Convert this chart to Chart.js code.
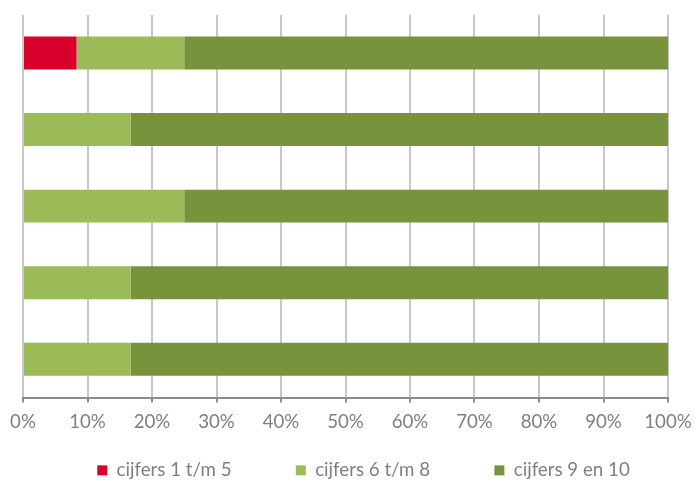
<!DOCTYPE html>
<html>
<head>
<meta charset="utf-8">
<script src="https://cdn.jsdelivr.net/npm/chart.js@4"></script>
<style>
  html, body { margin: 0; padding: 0; background: #fff; }
  #wrap { width: 695px; height: 481px; }
</style>
</head>
<body>
<div id="wrap"><canvas id="chart-bar"></canvas></div>
<script>
var categories = ['', '', '', '', ''];
var seriesNames = ['cijfers 1 t/m 5', 'cijfers 6 t/m 8', 'cijfers 9 en 10'];
var laag = [8.3, 0, 0, 0, 0];
var midden = [16.7, 16.7, 25, 16.7, 16.7];
var hoog = [75, 83.3, 75, 83.3, 83.3];
var xTicks = [0, 10, 20, 30, 40, 50, 60, 70, 80, 90, 100];

// keep the legend low and compact, nudged right like the original
var legendShift = {
    id: 'legendShift',
    afterLayout: function (chart) {
        var lg = chart.legend;
        if (!lg) return;
        lg.top -= 30;
        lg.left += 16;
        lg.right += 16;
    }
};

var ctx = document.getElementById('chart-bar').getContext('2d');

var myChart = new Chart(ctx, {
    type: 'bar',
    data: {
        labels: categories,
        datasets: [
            { label: seriesNames[0], data: laag, backgroundColor: '#d9002c' },
            { label: seriesNames[1], data: midden, backgroundColor: '#9bbb59' },
            { label: seriesNames[2], data: hoog, backgroundColor: '#77933c' }
        ]
    },
    plugins: [legendShift],
    options: {
        indexAxis: 'y',
        responsive: true,
        maintainAspectRatio: false,
        animation: false,
        datasets: {
            bar: {
                categoryPercentage: 1,
                barPercentage: 0.43,
                borderWidth: 0
            }
        },
        layout: {
            padding: { top: 14.65, left: 0, right: 0, bottom: 0 }
        },
        plugins: {
            tooltip: { enabled: false },
            legend: {
                display: true,
                position: 'bottom',
                maxHeight: 40,
                labels: {
                    boxWidth: 10,
                    boxHeight: 10,
                    padding: 50,
                    color: '#7f7f7f',
                    font: { family: 'Lato', size: 18.7 },
                    generateLabels: function (chart) {
                        var items = Chart.defaults.plugins.legend.labels.generateLabels(chart);
                        items.forEach(function (it, i) {
                            if (i < items.length - 1) it.text += '\u00a0\u00a0\u00a0';
                        });
                        return items;
                    }
                }
            }
        },
        scales: {
            x: {
                stacked: true,
                min: 0,
                max: 100,
                afterBuildTicks: function (axis) {
                    axis.ticks = xTicks.map(function (v) { return { value: v }; });
                },
                afterFit: function (axis) {
                    axis.paddingLeft = 23;
                    axis.paddingRight = 27;
                },
                grid: {
                    color: '#c8c8c8',
                    lineWidth: 2,
                    drawTicks: true,
                    tickLength: 5,
                    tickColor: '#8c8c8c'
                },
                border: { display: true, color: '#8c8c8c', width: 2 },
                ticks: {
                    padding: 8,
                    color: '#7f7f7f',
                    font: { family: 'Lato', size: 18.7 },
                    maxRotation: 0,
                    callback: function (v) { return v + '%'; }
                }
            },
            y: {
                stacked: true,
                display: false
            }
        }
    }
});
</script>
</body>
</html>
